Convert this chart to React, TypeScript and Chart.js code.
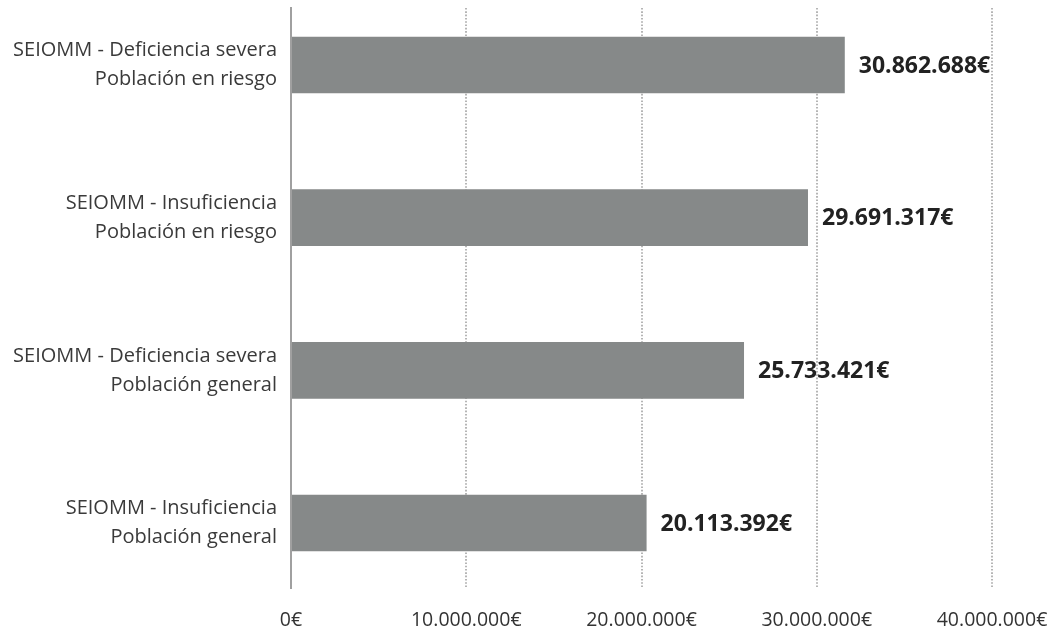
import React, { useEffect, useRef } from 'react';
import { Chart, registerables } from 'chart.js';

Chart.register(...registerables);

// categories, top to bottom (two lines each)
const categories: string[][] = [
    ['SEIOMM - Deficiencia severa', 'Población en riesgo'],
    ['SEIOMM - Insuficiencia', 'Población en riesgo'],
    ['SEIOMM - Deficiencia severa', 'Población general'],
    ['SEIOMM - Insuficiencia', 'Población general'],
];
// bar lengths as drawn in the picture
const barValues = [31600000, 29500000, 25850000, 20290000];
// amounts printed next to the bars
const labelValues = [30862688, 29691317, 25733421, 20113392];
const xTicks = [0, 10000000, 20000000, 30000000, 40000000];

const FONT = "'Open Sans', sans-serif";

const euro = (v: number) => String(Math.round(v)).replace(/\B(?=(\d{3})+(?!\d))/g, '.') + '€';

const valueLabels = {
    id: 'valueLabels',
    afterDatasetsDraw(chart: any) {
        const ctx = chart.ctx;
        const meta = chart.getDatasetMeta(0);
        ctx.save();
        ctx.font = `700 23px ${FONT}`;
        ctx.fillStyle = '#222222';
        ctx.textAlign = 'left';
        ctx.textBaseline = 'middle';
        meta.data.forEach((bar: any, i: number) => {
            ctx.fillText(euro(labelValues[i]), bar.x + 14, bar.y + 1);
        });
        ctx.restore();
    },
};

const App: React.FC = () => {
    const chartRef = useRef<HTMLCanvasElement | null>(null);

    useEffect(() => {
        if (!chartRef.current) return;
        const chart = new Chart(chartRef.current, {
            type: 'bar',
            data: {
                datasets: [
                    {
                        data: barValues.map((v, i) => ({ x: v, y: i })),
                        backgroundColor: '#868989',
                        borderWidth: 0,
                        categoryPercentage: 1,
                        barPercentage: 0.371,
                    },
                ],
            },
            options: {
                indexAxis: 'y',
                responsive: true,
                maintainAspectRatio: false,
                animation: false,
                layout: { padding: { top: 8, right: 63, left: 0, bottom: 0 } },
                plugins: {
                    legend: { display: false },
                    tooltip: { enabled: false },
                },
                scales: {
                    x: {
                        type: 'linear',
                        min: 0,
                        max: 40000000,
                        afterBuildTicks: (scale: any) => {
                            scale.ticks = xTicks.map((v) => ({ value: v }));
                        },
                        afterFit: (scale: any) => {
                            scale.height = 45;
                            scale.paddingLeft = 0;
                            scale.paddingRight = 0;
                        },
                        grid: {
                            drawTicks: false,
                            lineWidth: 2,
                            color: (c: any) => (c.tick && c.tick.value === 0 ? 'rgba(0,0,0,0)' : '#b5b5b5'),
                        },
                        border: { display: false, dash: [1.6, 1.7] },
                        ticks: {
                            padding: 21,
                            color: '#333333',
                            font: { family: FONT, size: 19.5, weight: 400 },
                            callback: (v: any) => euro(Number(v)),
                        },
                    },
                    y: {
                        type: 'linear',
                        reverse: true,
                        offset: false,
                        min: -0.3734,
                        max: 3.4256,
                        afterBuildTicks: (scale: any) => {
                            scale.ticks = categories.map((_, i) => ({ value: i }));
                        },
                        afterFit: (scale: any) => {
                            scale.width = 291;
                            scale.paddingTop = 0;
                            scale.paddingBottom = 0;
                        },
                        grid: { display: false, drawTicks: false, offset: false },
                        border: { display: true, color: '#a0a0a0', width: 2 },
                        ticks: {
                            padding: 14,
                            color: '#3a3a3a',
                            font: { family: FONT, size: 20, weight: 400, lineHeight: 1.45 },
                            callback: (v: any) => categories[Number(v)] ?? '',
                        },
                    },
                },
            },
            plugins: [valueLabels],
        });

        return () => {
            chart.destroy();
        };
    }, []);

    return (
        <div style={{ position: 'absolute', left: 0, top: 0, width: 1055, height: 633, background: '#ffffff' }}>
            <canvas ref={chartRef}></canvas>
        </div>
    );
};

export default App;
